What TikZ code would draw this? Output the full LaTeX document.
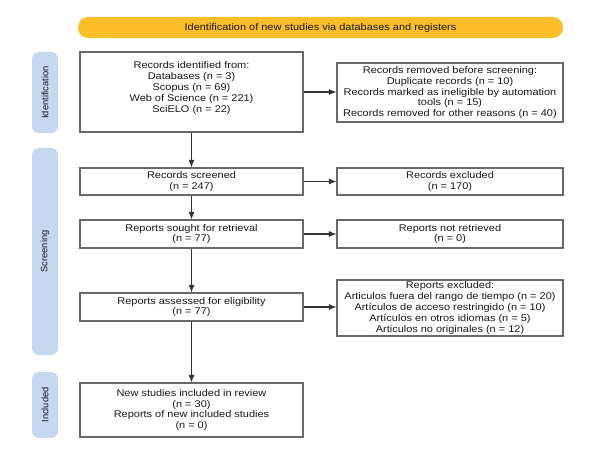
\documentclass[tikz,border=0pt]{standalone}
\usepackage{fontspec}
\setmainfont{Liberation Sans}
\newfontfamily\boxfont[FakeStretch=1.13]{Liberation Sans}
\newfontfamily\sidefont{Liberation Sans}
\usetikzlibrary{arrows.meta}
\definecolor{prismayellow}{RGB}{251,190,40}
\definecolor{prismablue}{RGB}{197,216,240}
\definecolor{boxline}{RGB}{105,105,105}
\definecolor{arrowline}{RGB}{50,50,50}
\definecolor{txt}{RGB}{25,25,25}
\tikzset{
  flowbox/.style={draw=boxline, line width=1.1bp, fill=white, align=center,
    text=txt, font=\boxfont\fontsize{9.7bp}{10.8bp}\selectfont, inner sep=0pt},
  leftbox/.style={flowbox, minimum width=223bp},
  rightbox/.style={flowbox, minimum width=226bp},
  sidebar/.style={fill=prismablue, rounded corners=7bp, minimum width=26bp, inner sep=0pt},
  sidelabel/.style={rotate=90, text=txt, font=\sidefont\fontsize{9.3bp}{11bp}\selectfont},
  flowarrow/.style={draw=arrowline, line width=1.1bp,
    -{Latex[length=7.5bp,width=6bp]}}
}
\begin{document}
\begin{tikzpicture}[x=1bp,y=-1bp]
\useasboundingbox (0,0) rectangle (595,465);
\fill[white] (0,0) rectangle (595,465);

% header
\node[fill=prismayellow, rounded corners=10bp, minimum width=485bp, minimum height=21bp,
  inner sep=0pt, text=txt, font=\boxfont\fontsize{9.7bp}{11bp}\selectfont] (head) at (320.5,27.5)
  {Identification of new studies via databases and registers};

% side bars
\node[sidebar, minimum height=81bp] (idbar) at (45,92.5) {};
\node[sidelabel] (idlab) at (idbar.center) {Identification};
\node[sidebar, minimum height=207bp] (scrbar) at (45,251.5) {};
\node[sidelabel] (scrlab) at (scrbar.center) {Screening};
\node[sidebar, minimum height=66bp] (incbar) at (45,405) {};
\node[sidelabel] (inclab) at (incbar.center) {Included};

% left column
\node[leftbox, minimum height=80bp, text depth=10bp] (ident) at (191.5,92)
  {Records identified from:\\Databases (n = 3)\\Scopus (n = 69)\\Web of Science (n = 221)\\SciELO (n = 22)};
\node[leftbox, minimum height=27bp] (screened) at (191.5,181.5)
  {Records screened\\(n = 247)};
\node[leftbox, minimum height=28bp] (sought) at (191.5,234)
  {Reports sought for retrieval\\(n = 77)};
\node[leftbox, minimum height=28bp] (assessed) at (191.5,307)
  {Reports assessed for eligibility\\(n = 77)};
\node[leftbox, minimum height=54bp] (included) at (191.5,410)
  {New studies included in review\\(n = 30)\\Reports of new included studies\\(n = 0)};

% right column
\node[rightbox, minimum height=59bp] (removed) at (450,92.5)
  {Records removed before screening:\\Duplicate records (n = 10)\\Records marked as ineligible by automation\\tools (n = 15)\\Records removed for other reasons (n = 40)};
\node[rightbox, minimum height=27bp] (excluded) at (450,181.5)
  {Records excluded\\(n = 170)};
\node[rightbox, minimum height=28bp] (notret) at (450,234)
  {Reports not retrieved\\(n = 0)};
\node[rightbox, minimum height=56bp] (repexcl) at (450,308)
  {Reports excluded:\\Articulos fuera del rango de tiempo (n = 20)\\Artículos de acceso restringido (n = 10)\\Artículos en otros idiomas (n = 5)\\Articulos no originales (n = 12)};

% arrows
\draw[flowarrow] (ident.south) -- (screened.north);
\draw[flowarrow] (screened.south) -- (sought.north);
\draw[flowarrow] (sought.south) -- (assessed.north);
\draw[flowarrow] (assessed.south) -- (included.north);
\draw[flowarrow] (ident.east) -- (removed.west |- ident.east);
\draw[flowarrow] (screened.east) -- (excluded.west);
\draw[flowarrow] (sought.east) -- (notret.west);
\draw[flowarrow] (assessed.east) -- (repexcl.west |- assessed.east);
\end{tikzpicture}
\end{document}
